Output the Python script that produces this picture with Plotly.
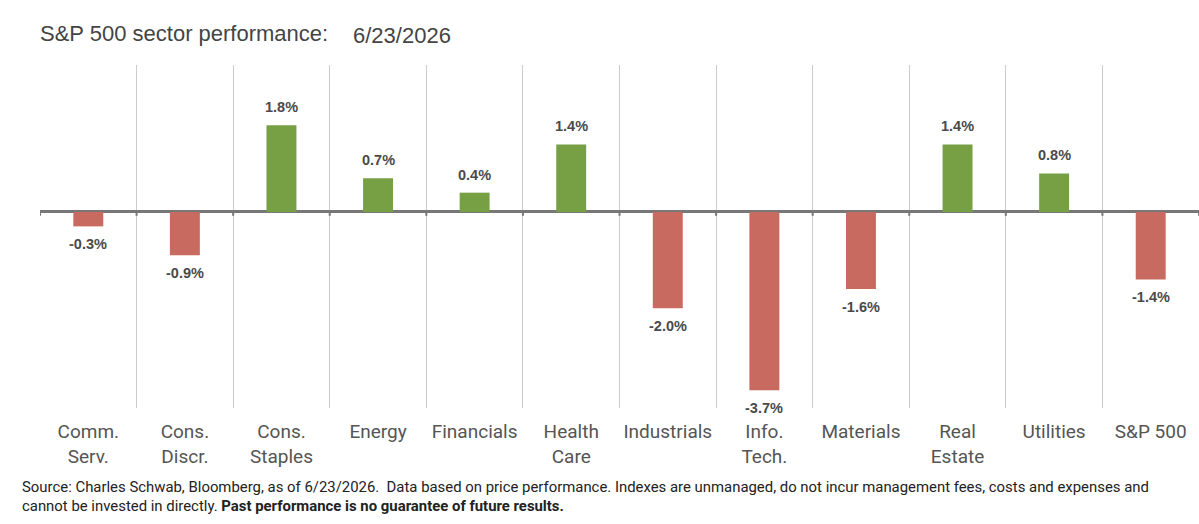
import plotly.graph_objects as go

categories = ["Comm.<br>Serv.", "Cons.<br>Discr.", "Cons.<br>Staples", "Energy", "Financials",
              "Health<br>Care", "Industrials", "Info.<br>Tech.", "Materials", "Real<br>Estate",
              "Utilities", "S&P 500"]
values = [-0.3, -0.9, 1.8, 0.7, 0.4, 1.4, -2.0, -3.7, -1.6, 1.4, 0.8, -1.4]
title_text = "S&P 500 sector performance:"
date_text = "6/23/2026"
source_line1 = "Source: Charles Schwab, Bloomberg, as of 6/23/2026.  Data based on price performance. Indexes are unmanaged, do not incur management fees, costs and expenses and"
source_line2 = "cannot be invested in directly. <b>Past performance is no guarantee of future results.</b>"

GREEN = "#77a045"
RED = "#c96a60"
colors = [GREEN if v >= 0 else RED for v in values]

fig = go.Figure()
fig.add_trace(go.Bar(
    x=categories, y=values, marker=dict(color=colors, line=dict(width=0)),
    width=0.31, hoverinfo="skip", cliponaxis=False,
))

for c, v in zip(categories, values):
    fig.add_annotation(
        x=c, y=v, text=f"<b>{v:.1f}%</b>", showarrow=False,
        yanchor="bottom" if v >= 0 else "top", yshift=8 if v >= 0 else -8,
        font=dict(family="Liberation Sans, Arial", size=14.5, color="#4a4a4a"),
    )

# small ticks on zero line at category boundaries
for i in range(len(categories) + 1):
    fig.add_shape(type="line", xref="x", yref="y", x0=i - 0.5, x1=i - 0.5,
                  y0=0, y1=-0.08, line=dict(color="#777777", width=2), layer="above")

fig.add_annotation(xref="paper", yref="paper", x=-0.0015, y=1.0, xanchor="left", yanchor="bottom",
                   yshift=17, text=title_text, showarrow=False,
                   font=dict(family="Liberation Sans, Arial", size=22, color="#444444"))
fig.add_annotation(xref="paper", yref="paper", x=0.268, y=1.0, xanchor="left", yanchor="bottom",
                   yshift=15, text=date_text, showarrow=False,
                   font=dict(family="Liberation Sans, Arial", size=22, color="#444444"))
fig.add_annotation(xref="paper", yref="paper", x=-0.0175, y=0, xanchor="left", yanchor="top",
                   yshift=-68, text=source_line1 + "<br>" + source_line2, showarrow=False, align="left",
                   font=dict(family="Roboto, Arial", size=14.9, color="#222222"))

fig.update_layout(
    width=1199, height=524,
    margin=dict(l=40, r=0, t=65, b=116),
    paper_bgcolor="white", plot_bgcolor="white",
    showlegend=False, bargap=0.69,
    xaxis=dict(type="category", tickson="boundaries", showgrid=True, gridcolor="#cccccc",
               gridwidth=1, ticks="", showline=False, ticklabelstandoff=10, tickangle=0,
               tickfont=dict(family="Roboto, Arial", size=19, color="#555555"),
               range=[-0.5, 11.5], fixedrange=True),
    yaxis=dict(range=[-4.07, 3.05], showgrid=False, showticklabels=False, zeroline=True,
               zerolinecolor="#777777", zerolinewidth=2.5, fixedrange=True),
)

fig.write_html("out.html")
